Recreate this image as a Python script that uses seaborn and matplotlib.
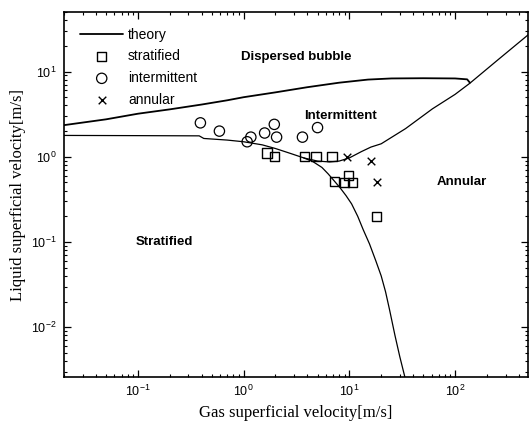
import matplotlib
matplotlib.use("Agg")
import matplotlib.pyplot as plt
import seaborn as sns

# ---- data ----
# theory: dispersed-bubble boundary
bubble_x = [0.02, 0.05, 0.1, 0.2, 0.4, 0.7, 1.0, 2.0, 4.0, 8.0, 15, 25, 50, 100, 130, 138]
bubble_y = [2.35, 2.75, 3.2, 3.6, 4.1, 4.6, 5.0, 5.7, 6.55, 7.4, 8.05, 8.3, 8.35, 8.3, 8.1, 7.4]

# theory: stratified/intermittent then intermittent/annular boundary
inter_x = [0.02, 0.1, 0.38, 0.42, 0.7, 1.0, 1.5, 2.0, 2.8, 3.7, 5.0, 6.5, 8.0, 10, 13, 16, 20, 34, 61, 100, 138, 250, 500]
inter_y = [1.78, 1.77, 1.76, 1.64, 1.57, 1.50, 1.38, 1.25, 1.09, 0.97, 0.89, 0.87, 0.89, 0.97, 1.15, 1.30, 1.42, 2.14, 3.65, 5.4, 7.3, 13.5, 27.5]

# theory: stratified/annular boundary
strat_x = [3.7, 4.5, 5.5, 6.3, 7.2, 8.2, 9.3, 10.5, 12, 13.5, 15.5, 17.8, 20, 22, 24, 27, 30, 33.5, 35]
strat_y = [0.97, 0.88, 0.75, 0.63, 0.52, 0.43, 0.35, 0.28, 0.20, 0.14, 0.095, 0.06, 0.04, 0.026, 0.016, 0.008, 0.0045, 0.0026, 0.002]

# experiments
stratified_x = [1.66, 1.95, 3.75, 4.83, 6.85, 7.2, 8.95, 10.7, 9.8, 18.1]
stratified_y = [1.11, 1.0, 1.0, 1.0, 1.0, 0.51, 0.5, 0.5, 0.6, 0.2]

intermittent_x = [0.39, 0.59, 1.08, 1.17, 1.58, 1.95, 2.05, 3.6, 5.0]
intermittent_y = [2.5, 2.0, 1.5, 1.7, 1.9, 2.4, 1.7, 1.7, 2.2]

annular_x = [9.5, 16.0, 18.1]
annular_y = [1.0, 0.89, 0.5]

regions = ["Dispersed bubble", "Intermittent", "Annular", "Stratified"]
region_x = [3.15, 8.2, 115, 0.177]
region_y = [14.9, 3.0, 0.5, 0.1]

# ---- style ----
sns.set_style("ticks")
plt.rcParams["font.family"] = ["Liberation Sans", "DejaVu Sans"]
plt.rcParams["mathtext.default"] = "regular"
plt.rcParams["text.color"] = "black"
plt.rcParams["axes.labelcolor"] = "black"
plt.rcParams["xtick.color"] = "black"
plt.rcParams["ytick.color"] = "black"

fig = plt.figure(figsize=(5.31, 4.28), dpi=100)
ax = fig.add_axes([0.1205, 0.119, 0.874, 0.853])
ax.set_xscale("log")
ax.set_yscale("log")

sns.lineplot(x=bubble_x, y=bubble_y, ax=ax, sort=False, estimator=None,
             color="black", linewidth=1.3, label="theory")
sns.lineplot(x=inter_x, y=inter_y, ax=ax, sort=False, estimator=None,
             color="black", linewidth=0.9)
sns.lineplot(x=strat_x, y=strat_y, ax=ax, sort=False, estimator=None,
             color="black", linewidth=0.9)

sns.scatterplot(x=stratified_x, y=stratified_y, ax=ax, marker="s", s=45,
                facecolor="none", edgecolor="black", linewidth=1.0, label="stratified")
sns.scatterplot(x=intermittent_x, y=intermittent_y, ax=ax, marker="o", s=55,
                facecolor="none", edgecolor="black", linewidth=0.9, label="intermittent")
sns.scatterplot(x=annular_x, y=annular_y, ax=ax, marker="x", s=30,
                color="black", linewidth=1.0, label="annular")

for t, x, y in zip(regions, region_x, region_y):
    ax.text(x, y, t, ha="center", va="center", fontsize=9.5, fontweight="bold",
            color="black")

ax.set_xlim(0.02, 490)
ax.set_ylim(0.0026, 50)

for s in ax.spines.values():
    s.set_linewidth(1.2)
    s.set_color("black")
ax.tick_params(which="both", direction="in", top=True, right=True, colors="black",
               labelsize=9)
ax.tick_params(which="major", length=5, width=0.9, pad=5)
ax.tick_params(which="minor", length=2.5, width=0.8)

ax.set_xlabel("Gas superficial velocity[m/s]", family=["Liberation Serif"], fontsize=12)
ax.set_ylabel("Liquid superficial velocity[m/s]", family=["Liberation Serif"], fontsize=12)

leg = ax.legend(loc="upper left", bbox_to_anchor=(0.005, 0.995), frameon=False,
                fontsize=10, handlelength=3.1, handletextpad=0.35,
                labelspacing=0.55, borderaxespad=0.6)
for txt in leg.get_texts():
    txt.set_color("black")

fig.savefig("out.png", dpi=100)
